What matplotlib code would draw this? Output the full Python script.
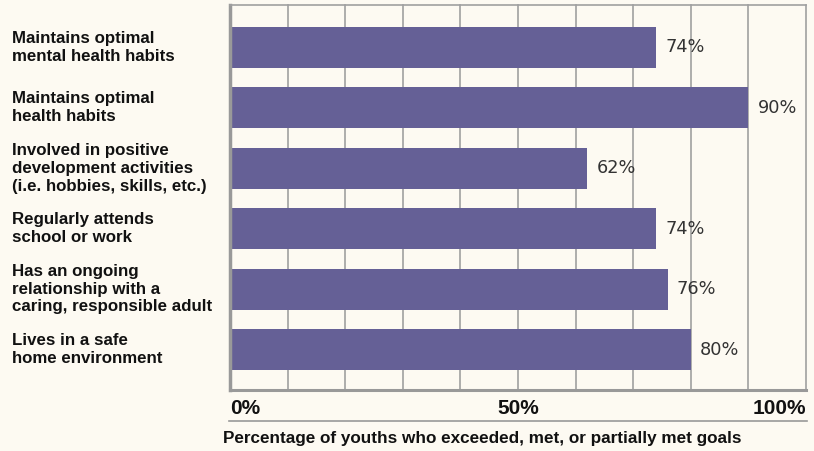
import matplotlib
matplotlib.use("Agg")
import matplotlib.pyplot as plt
import matplotlib.transforms as mtransforms
import numpy as np

categories = [
    "Maintains optimal\nmental health habits",
    "Maintains optimal\nhealth habits",
    "Involved in positive\ndevelopment activities\n(i.e. hobbies, skills, etc.)",
    "Regularly attends\nschool or work",
    "Has an ongoing\nrelationship with a\ncaring, responsible adult",
    "Lives in a safe\nhome environment",
]
values = [74, 90, 62, 74, 76, 80]
tick_values = [0, 50, 100]
tick_labels = ["0%", "50%", "100%"]
xlabel = "Percentage of youths who exceeded, met, or partially met goals"

bg = "#FDFAF2"
bar_color = "#656096"
grid_color = "#A0A0A0"

W, H = 814, 451
fig = plt.figure(figsize=(W / 100, H / 100), dpi=100, facecolor=bg)
left, right, top, bottom = 230, 806, 5, 390
ax = fig.add_axes([left / W, 1 - bottom / H, (right - left) / W, (bottom - top) / H])
ax.set_facecolor(bg)

y = np.arange(len(categories))
for g in range(10, 101, 10):
    ax.axvline(g, color=grid_color, lw=1.2, zorder=1, clip_on=False)
ax.barh(y, values, height=0.68, color=bar_color, zorder=2)
ax.set_xlim(0, 100)
ax.set_ylim(5.67, -0.70)

for yi, v in zip(y, values):
    ax.text(v + 1.6, yi, f"{v}%", va="center", ha="left", fontsize=12.8,
            family="DejaVu Sans", color="#333333", zorder=3)

ax.set_xticks([])
ax.set_yticks([])
ax.spines["top"].set_color(grid_color)
ax.spines["top"].set_linewidth(1.2)
ax.spines["right"].set_visible(False)
ax.spines["left"].set_color("#999999")
ax.spines["left"].set_linewidth(2.5)
ax.spines["bottom"].set_color("#999999")
ax.spines["bottom"].set_linewidth(2.2)

font = "Liberation Sans"
trans = mtransforms.blended_transform_factory(fig.transFigure, ax.transData)
for yi, cat in zip(y, categories):
    ax.text(12 / W, yi, cat, transform=trans,
            ha="left", va="center", fontsize=12.2, fontweight="bold", family=font,
            color="#111111", linespacing=1.24)

for tv, tl in zip(tick_values, tick_labels):
    ha = "left" if tv == 0 else ("right" if tv == 100 else "center")
    xf = (left + tv / 100 * (right - left)) / W
    fig.text(xf, 1 - 408 / H, tl, ha=ha, va="center", fontsize=15, fontweight="bold",
             family=font, color="#111111")

fig.add_artist(plt.Line2D([229 / W, 807 / W], [1 - 421 / H, 1 - 421 / H],
                          color="#999999", lw=1.2))
fig.text(223 / W, 1 - 438 / H, xlabel, ha="left", va="center", fontsize=12.3,
         fontweight="bold", family=font, color="#111111")

fig.savefig("out.png", dpi=100, facecolor=bg)
